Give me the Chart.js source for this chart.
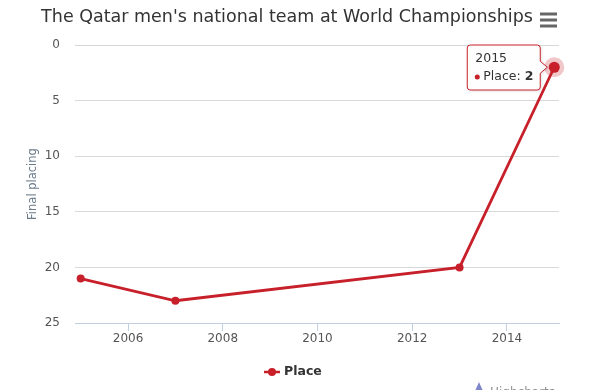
<!DOCTYPE html>
<html>
<head>
<meta charset="utf-8">
<script src="https://cdn.jsdelivr.net/npm/chart.js@4"></script>
<style>
  html, body { margin: 0; padding: 0; background: #fff; }
  #wrap { width: 593px; height: 390px; position: relative; }
</style>
</head>
<body>
<div id="wrap"><canvas id="c"></canvas></div>
<script>
const years = [2005, 2007, 2013, 2015];
const places = [21, 23, 20, 2];
const xTicks = [2006, 2008, 2010, 2012, 2014];
const yTicks = [0, 5, 10, 15, 20, 25];
const seriesName = "Place";
const chartTitle = "The Qatar men's national team at World Championships";
const yTitle = "Final placing";

const RED = "#c8202a";
const FONT = "'DejaVu Sans', Verdana, sans-serif";
const hoverIndex = places.length - 1;

/* extras drawn the Highcharts way: title, menu, halo, tooltip, legend, credits */
const extras = {
  id: "extras",
  beforeDatasetsDraw(chart) {
    const p = chart.getDatasetMeta(0).data[hoverIndex];
    const ctx = chart.ctx;
    ctx.save();
    ctx.fillStyle = "rgba(200,32,42,0.25)";
    ctx.beginPath(); ctx.arc(p.x, p.y, 10, 0, Math.PI * 2); ctx.fill();
    ctx.restore();
  },
  afterDraw(chart) {
    const ctx = chart.ctx;
    ctx.save();

    // title
    ctx.fillStyle = "#333";
    ctx.font = "17.5px " + FONT;
    ctx.textAlign = "center"; ctx.textBaseline = "middle";
    ctx.fillText(chartTitle, 287, 17);

    // menu icon
    ctx.strokeStyle = "#666"; ctx.lineWidth = 3;
    [14, 20, 26].forEach(y => {
      ctx.beginPath(); ctx.moveTo(540, y); ctx.lineTo(557, y); ctx.stroke();
    });

    // legend
    ctx.strokeStyle = RED; ctx.lineWidth = 2.5;
    ctx.beginPath(); ctx.moveTo(264, 372); ctx.lineTo(280, 372); ctx.stroke();
    ctx.fillStyle = RED;
    ctx.beginPath(); ctx.arc(272, 372, 4, 0, Math.PI * 2); ctx.fill();
    ctx.fillStyle = "#333";
    ctx.font = "bold 12.5px " + FONT;
    ctx.textAlign = "left";
    ctx.fillText(seriesName, 284, 372);

    // credits (cut at the bottom edge)
    ctx.fillStyle = "#909090";
    ctx.font = "12px " + FONT;
    ctx.fillText("Highcharts", 490, 393);
    ctx.fillStyle = "#8087c8";
    ctx.beginPath(); ctx.moveTo(475, 391); ctx.lineTo(479, 382); ctx.lineTo(483, 391); ctx.fill();

    // tooltip
    const p = chart.getDatasetMeta(0).data[hoverIndex];
    const bw = 73, bh = 45;
    const bx = p.x - 14 - bw, by = 45;
    ctx.shadowColor = "rgba(0,0,0,0.15)"; ctx.shadowOffsetX = 1; ctx.shadowOffsetY = 1; ctx.shadowBlur = 3;
    ctx.fillStyle = "rgba(255,255,255,0.96)";
    ctx.strokeStyle = RED; ctx.lineWidth = 1;
    ctx.beginPath();
    ctx.moveTo(bx + 3, by);
    ctx.lineTo(bx + bw - 3, by);
    ctx.quadraticCurveTo(bx + bw, by, bx + bw, by + 3);
    ctx.lineTo(bx + bw, p.y - 6);
    ctx.lineTo(p.x - 7, p.y);
    ctx.lineTo(bx + bw, p.y + 6);
    ctx.lineTo(bx + bw, by + bh - 3);
    ctx.quadraticCurveTo(bx + bw, by + bh, bx + bw - 3, by + bh);
    ctx.lineTo(bx + 3, by + bh);
    ctx.quadraticCurveTo(bx, by + bh, bx, by + bh - 3);
    ctx.lineTo(bx, by + 3);
    ctx.quadraticCurveTo(bx, by, bx + 3, by);
    ctx.closePath();
    ctx.fill();
    ctx.shadowColor = "transparent";
    ctx.stroke();

    ctx.fillStyle = "#333";
    ctx.font = "12.5px " + FONT;
    ctx.textBaseline = "middle";
    ctx.fillText(String(years[hoverIndex]), bx + 8, by + 14);
    ctx.fillStyle = RED;
    ctx.beginPath(); ctx.arc(bx + 10, by + 32, 2.5, 0, Math.PI * 2); ctx.fill();
    ctx.fillStyle = "#333";
    const lbl = seriesName + ": ";
    ctx.fillText(lbl, bx + 16, by + 32);
    const lw = ctx.measureText(lbl).width;
    ctx.font = "bold 12.5px " + FONT;
    ctx.fillText(String(places[hoverIndex]), bx + 16 + lw, by + 32);

    ctx.restore();
  }
};

new Chart(document.getElementById("c"), {
  type: "line",
  data: {
    datasets: [{
      label: seriesName,
      data: years.map((y, i) => ({ x: y, y: places[i] })),
      borderColor: RED,
      backgroundColor: RED,
      borderWidth: 2.8,
      tension: 0,
      pointRadius: c => c.dataIndex === hoverIndex ? 5.5 : 4,
      pointBorderWidth: 0,
      pointBackgroundColor: RED,
      clip: false,
    }],
  },
  options: {
    responsive: true, maintainAspectRatio: false, animation: false,
    events: [],
    layout: { padding: { top: 45, right: 34, bottom: 0, left: 0 } },
    plugins: { legend: { display: false }, tooltip: { enabled: false }, title: { display: false } },
    scales: {
      x: {
        type: "linear", min: 2004.88, max: 2015.1,
        afterBuildTicks: s => { s.ticks = xTicks.map(v => ({ value: v })); },
        afterFit: s => { s.height = 67; },
        grid: { drawOnChartArea: false, drawTicks: true, tickLength: 8, color: "#c0d0e0" },
        border: { display: true, color: "#c0d0e0" },
        ticks: { color: "#555", font: { family: FONT, size: 12 }, padding: 1, callback: v => String(v), maxRotation: 0 },
      },
      y: {
        reverse: true, min: 0, max: 25,
        afterBuildTicks: s => { s.ticks = yTicks.map(v => ({ value: v })); },
        afterFit: s => { s.width = 75; },
        grid: { drawTicks: false, color: "#d8d8d8" },
        border: { display: false },
        ticks: { color: "#555", font: { family: FONT, size: 12 }, padding: 15 },
        title: { display: true, text: yTitle, color: "#6b7b8c", font: { family: FONT, size: 11.5 }, padding: { top: 26, bottom: 0 } },
      },
    },
  },
  plugins: [extras],
});
</script>
</body>
</html>
